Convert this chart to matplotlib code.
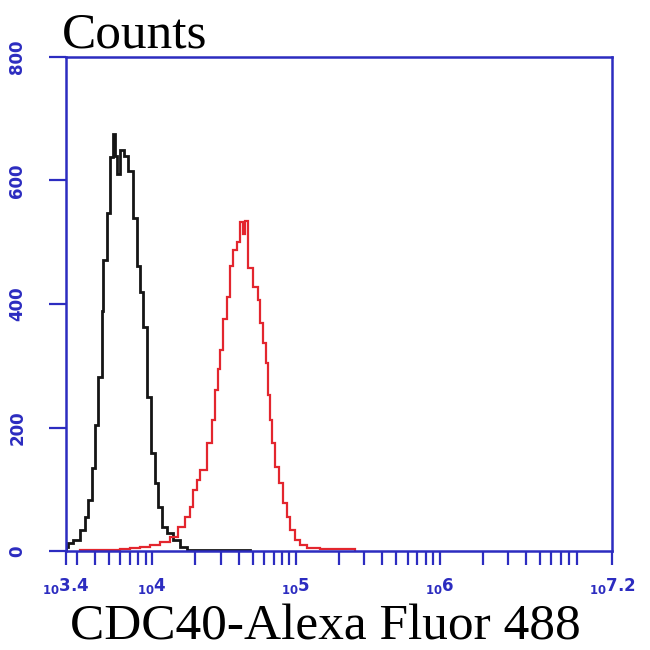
import numpy as np
import matplotlib.pyplot as plt
from matplotlib.ticker import FixedLocator, LogLocator, NullFormatter

# histogram bin edges as log10 exponents, counts
black_edges = [3.400, 3.414, 3.449, 3.497, 3.532, 3.553, 3.581, 3.602, 3.623,
               3.651, 3.657, 3.685, 3.706, 3.727, 3.741, 3.755, 3.776, 3.804,
               3.831, 3.866, 3.894, 3.915, 3.936, 3.964, 3.992, 4.019, 4.040,
               4.068, 4.103, 4.145, 4.193, 4.242, 4.680]
black_counts = [6, 13, 18, 34, 55, 83, 135, 204, 282, 388, 472, 548, 638, 675,
                640, 610, 650, 640, 615, 540, 461, 419, 363, 250, 159, 110, 71,
                39, 29, 18, 6, 2]

red_edges = [3.497, 3.776, 3.845, 3.915, 3.985, 4.054, 4.124, 4.179, 4.228,
             4.263, 4.284, 4.312, 4.332, 4.381, 4.416, 4.437, 4.458, 4.472,
             4.493, 4.520, 4.541, 4.562, 4.590, 4.611, 4.632, 4.646, 4.667,
             4.701, 4.736, 4.750, 4.771, 4.792, 4.806, 4.820, 4.834, 4.854,
             4.882, 4.910, 4.938, 4.959, 4.994, 5.028, 5.077, 5.168, 5.411]
red_counts = [2, 3, 5, 6, 10, 15, 23, 39, 55, 71, 99, 115, 131, 175, 212, 261,
              294, 326, 375, 412, 461, 488, 500, 532, 513, 534, 459, 428, 407,
              370, 337, 305, 253, 212, 175, 136, 110, 78, 55, 34, 18, 10, 5, 3]

x_tick_exp = [3.4, 4, 5, 6, 7.2]
x_tick_labels = ['$_{10}$3.4', '$_{10}$4', '$_{10}$5', '$_{10}$6', '$_{10}$7.2']
y_ticks = [0, 200, 400, 600, 800]

blue = '#2c2cc0'
plt.rcParams['mathtext.default'] = 'bf'

fig = plt.figure(figsize=(6.5, 6.5), dpi=100)
ax = fig.add_axes([66/650, 1-551/650, 546/650, 494/650])

ax.stairs(black_counts, 10**np.array(black_edges), color='#151515', lw=2.0)
ax.stairs(red_counts, 10**np.array(red_edges), color='#e3262e', lw=1.6)

ax.set_xscale('log')
ax.set_xlim(10**3.4, 10**7.2)
ax.set_ylim(0, 800)

ax.xaxis.set_major_locator(FixedLocator([10**e for e in x_tick_exp]))
ax.set_xticklabels(x_tick_labels)
ax.xaxis.set_minor_locator(LogLocator(base=10, subs=np.arange(2, 10)))
ax.xaxis.set_minor_formatter(NullFormatter())
ax.set_yticks(y_ticks)
ax.set_yticklabels([str(v) for v in y_ticks], rotation=90, va='center')

for s in ax.spines.values():
    s.set_color(blue)
    s.set_linewidth(1.8)
ax.tick_params(axis='x', which='both', direction='out', length=10, width=1.6,
               color=blue, labelcolor=blue, labelsize=12, pad=8)
ax.tick_params(axis='y', direction='out', length=12.5, width=1.6,
               color=blue, labelcolor=blue, labelsize=12, pad=16)
for lab in ax.get_xticklabels() + ax.get_yticklabels():
    lab.set_fontweight('bold')

fig.text(62/650, 1-47/650, 'Counts', family='Liberation Serif', fontsize=37,
         ha='left', va='baseline')
fig.text(325/650, 1-640/650, 'CDC40-Alexa Fluor 488', family='Liberation Serif',
         fontsize=37, ha='center', va='baseline')

fig.savefig('out.png', dpi=100)
